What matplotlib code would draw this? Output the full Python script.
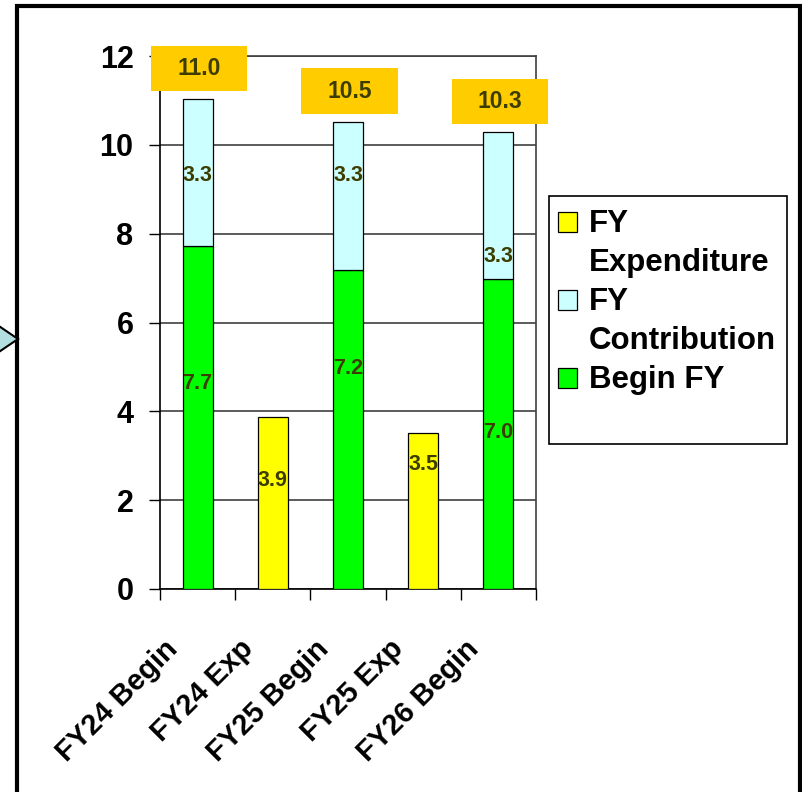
import matplotlib.pyplot as plt
from matplotlib.patches import Rectangle, Polygon
import matplotlib.transforms as mtransforms

plt.rcParams['font.family'] = ['Liberation Sans', 'DejaVu Sans']
plt.rcParams['font.weight'] = 'bold'

categories = ['FY24 Begin', 'FY24 Exp', 'FY25 Begin', 'FY25 Exp', 'FY26 Begin']
begin_idx = [0, 2, 4]
exp_idx = [1, 3]
begin_fy = [7.72, 7.18, 6.98]
contribution = [3.31, 3.34, 3.30]
expenditure = [3.88, 3.52]
# where excel put the value labels (data units)
begin_label_y = [4.63, 4.97, 3.53]
contrib_label_y = [9.30, 9.30, 7.48]
exp_label_y = [2.45, 2.81]
legend_labels = [['FY', 'Expenditure'], ['FY', 'Contribution'], ['Begin FY']]

c_exp = '#FFFF00'
c_con = '#CCFFFF'
c_beg = '#00FF00'
c_lab = '#3d3d00'
c_box = '#FFCC00'

W, H = 802, 792
fig = plt.figure(figsize=(W / 100, H / 100), dpi=100)
ax = fig.add_axes([160 / W, 1 - 589 / H, 376 / W, 533 / H])

ax.bar(begin_idx, begin_fy, width=0.4, color=c_beg, edgecolor='black', linewidth=0.9, zorder=3)
ax.bar(begin_idx, contribution, width=0.4, bottom=begin_fy, color=c_con, edgecolor='black',
       linewidth=0.9, zorder=3)
ax.bar(exp_idx, expenditure, width=0.4, color=c_exp, edgecolor='black', linewidth=0.9, zorder=3)

for x, v, ly in zip(begin_idx, begin_fy, begin_label_y):
    ax.text(x, ly, f'{v:.1f}', ha='center', va='center', fontsize=15.5, color=c_lab, zorder=5)
for x, v, ly in zip(begin_idx, contribution, contrib_label_y):
    ax.text(x, ly, f'{v:.1f}', ha='center', va='center', fontsize=15.5, color=c_lab, zorder=5)
for x, v, ly in zip(exp_idx, expenditure, exp_label_y):
    ax.text(x, ly, f'{v:.1f}', ha='center', va='center', fontsize=15.5, color=c_lab, zorder=5)

# orange total boxes above the stacks
for x, b, c in zip(begin_idx, begin_fy, contribution):
    tot = b + c
    ax.add_patch(Rectangle((x - 0.62, tot + 0.18), 1.28, 1.02, facecolor=c_box,
                           edgecolor='none', clip_on=False, zorder=6))
    ax.text(x + 0.02, tot + 0.69, f'{tot:.1f}', ha='center', va='center', fontsize=16.5,
            color=c_lab, zorder=7, clip_on=False)

ax.set_xlim(-0.5, 4.5)
ax.set_ylim(0, 12)
ax.set_yticks(range(0, 13, 2))
ax.yaxis.grid(True, color='#404040', linewidth=1.2, zorder=0)
ax.set_axisbelow(True)
for s in ax.spines.values():
    s.set_color('#404040')
    s.set_linewidth(1.2)
ax.spines['left'].set_color('black')
ax.spines['bottom'].set_color('black')

ax.tick_params(axis='y', direction='out', length=8, width=1, labelsize=22, pad=11)
ax.set_xticks(range(len(categories)))
ax.set_xticks([i - 0.5 for i in range(len(categories) + 1)], minor=True)
ax.tick_params(axis='x', which='major', length=0, pad=40)
ax.tick_params(axis='x', which='minor', direction='out', length=8, width=1)
ax.set_xticklabels(categories, rotation=45, ha='right', rotation_mode='anchor',
                   va='center', fontsize=21)
offset = mtransforms.ScaledTranslation(-0.24, 0, fig.dpi_scale_trans)
for lbl in ax.get_xticklabels():
    lbl.set_transform(lbl.get_transform() + offset)

# legend drawn by hand so the swatch sits on the first text line, like excel
px = lambda x, y: (x / W, 1 - y / H)
fig.add_artist(Rectangle(px(549, 444), (787 - 549) / W, (444 - 196) / H,
                         transform=fig.transFigure, facecolor='white', edgecolor='black',
                         linewidth=1.2))
swatch_colors = [c_exp, c_con, c_beg]
baseline = 232
for col, lines in zip(swatch_colors, legend_labels):
    fig.add_artist(Rectangle(px(558, baseline), 19 / W, 20 / H, transform=fig.transFigure,
                             facecolor=col, edgecolor='black', linewidth=0.9))
    for line in lines:
        fig.text(*px(589, baseline), line, fontsize=22.5, va='baseline', ha='left')
        baseline += 39

# outer frame and the little arrow on the left
fig.add_artist(Rectangle((17 / W, -0.05), (800 - 17) / W, 1.05 - 6 / H, transform=fig.transFigure,
                         fill=False, edgecolor='black', linewidth=3))
fig.add_artist(Polygon([px(-10, 320), px(18, 339), px(-10, 358)],
                       closed=True, transform=fig.transFigure, facecolor='#b4dfe0',
                       edgecolor='black', linewidth=1.5))

fig.savefig('out.png', dpi=100)
